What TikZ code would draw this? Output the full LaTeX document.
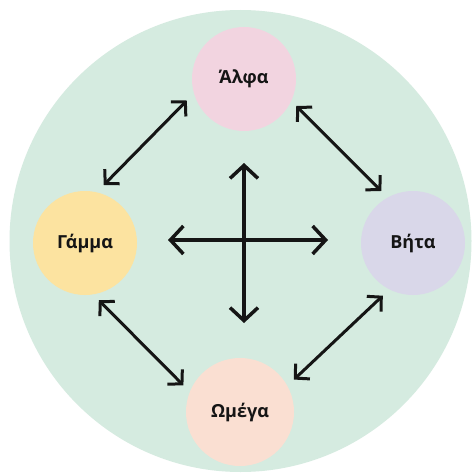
\documentclass[tikz,border=0pt]{standalone}
\usepackage{fontspec}
\setmainfont{Open Sans}
\usetikzlibrary{arrows.meta}
\definecolor{bgmint}{HTML}{D5EBE0}
\definecolor{cpink}{HTML}{F2D4E0}
\definecolor{cyellow}{HTML}{FCE3A0}
\definecolor{clav}{HTML}{D9D7E9}
\definecolor{cpeach}{HTML}{FADFD2}
\definecolor{ink}{HTML}{151515}
\tikzset{
  bubble/.style={circle, minimum size=104pt, inner sep=0pt, font=\fontsize{18}{20}\selectfont\bfseries, text=ink},
  dbl/.style={draw=ink, line width=3pt, line cap=round, line join=round,
    {Straight Barb[length=10pt,width=21pt,line width=3pt]}-{Straight Barb[length=10pt,width=21pt,line width=3pt]}},
  crossarrow/.style={draw=ink, line width=3.5pt, line cap=round, line join=round,
    {Straight Barb[length=13pt,width=28pt,line width=3.5pt]}-{Straight Barb[length=13pt,width=28pt,line width=3.5pt]}}
}
\begin{document}
\begin{tikzpicture}[x=1pt,y=-1pt]
\useasboundingbox (0,0) rectangle (471,473);
\fill[white] (0,0) rectangle (471,473);
\fill[bgmint] (240.5,241) circle (231);
\node[bubble, fill=cpink] (alpha) at (244,79) {Άλφα};
\node[bubble, fill=cyellow] (gamma) at (85,243) {Γάμμα};
\node[bubble, fill=clav] (beta) at (413,243) {Βήτα};
\node[bubble, fill=cpeach, minimum size=108pt] (omega) at (240,412) {Ωμέγα};
\draw[dbl, shorten <=10pt, shorten >=10pt] (gamma.77) -- (alpha.196);
\draw[dbl, shorten <=7pt, shorten >=9pt] (alpha.-25) -- (beta.119);
\draw[dbl, shorten <=8pt, shorten >=9pt] (gamma.-81) -- (omega.158);
\draw[dbl, shorten <=9pt, shorten >=9pt] (beta.-117) -- (omega.29);
\coordinate (top) at (244,163);
\coordinate (bottom) at (244,323);
\coordinate (left) at (168,240);
\coordinate (right) at (328,240);
\draw[crossarrow] (top) -- (bottom);
\draw[crossarrow] (left) -- (right);
\end{tikzpicture}
\end{document}
